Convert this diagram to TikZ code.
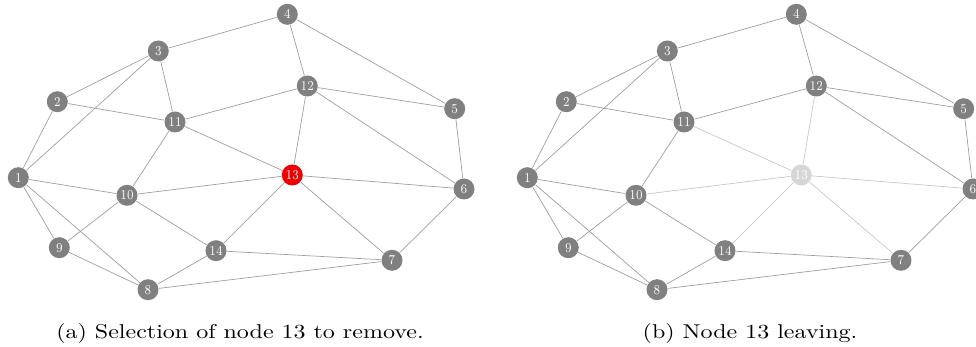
\documentclass[tikz,border=0pt]{standalone}
\usepackage{graphicx}
\usetikzlibrary{backgrounds}
\definecolor{nodegray}{RGB}{128,128,128}
\definecolor{edgegray}{RGB}{158,158,158}
\definecolor{fadeedge}{RGB}{200,200,200}
\definecolor{fadenode}{RGB}{214,214,214}
\definecolor{selred}{RGB}{238,0,0}
\newcommand{\lbl}[1]{\scalebox{0.85}[1]{#1}}
\tikzset{
  x=0.5pt, y=-0.5pt,
  vtx/.style={circle, fill=nodegray, draw=none, minimum size=10.5pt, inner sep=0pt,
              text=white, font=\fontsize{6.8}{7}\selectfont},
  selvtx/.style={vtx, fill=selred},
  gonevtx/.style={vtx, fill=fadenode},
  lnk/.style={draw=edgegray, line width=0.35pt},
  fadelnk/.style={draw=fadeedge, line width=0.35pt},
  captext/.style={font=\fontsize{10}{12}\selectfont, anchor=base, inner sep=0pt}
}
\begin{document}
\begin{tikzpicture}
\useasboundingbox (0,0) rectangle (976,347);
\clip (0,0) rectangle (976,347);
\foreach \p/\off in {a/0,b/509} {
  \foreach \n/\x/\y in {1/18.3/177.7, 2/57.3/101.7, 3/158.3/51, 4/287.3/14.3,
      5/454.7/108.7, 6/464/189, 7/392/260.3, 8/148/289.7, 9/59.3/247.7,
      10/127/195.3, 11/175/122, 12/307.3/86, 14/216/250.7} {
    \node[vtx] (\p\n) at (\x+\off,\y) {\lbl{\n}};
  }
}
\node[selvtx] (a13) at (292.3,175) {\lbl{13}};
\node[gonevtx] (b13) at (801.3,175) {\lbl{13}};
\begin{pgfonlayer}{background}
  \foreach \p in {a,b} {
    \foreach \u/\v in {1/2,1/3,1/10,1/9,1/8,2/3,2/11,3/4,3/11,4/12,4/5,5/12,5/6,
        6/12,6/7,7/14,7/8,8/9,8/14,9/10,10/11,10/14,11/12} {
      \draw[lnk] (\p\u) -- (\p\v);
    }
  }
  \foreach \v in {6,7,10,11,12,14} {
    \draw[lnk] (a13) -- (a\v);
    \draw[fadelnk] (b13) -- (b\v);
  }
\end{pgfonlayer}
\node[captext] (capa) at (240,339) {\scalebox{1.2}[1]{(a) Selection of node 13 to remove.}};
\node[captext] (capb) at (750,339) {\scalebox{1.2}[1]{(b) Node 13 leaving.}};
\end{tikzpicture}
\end{document}
